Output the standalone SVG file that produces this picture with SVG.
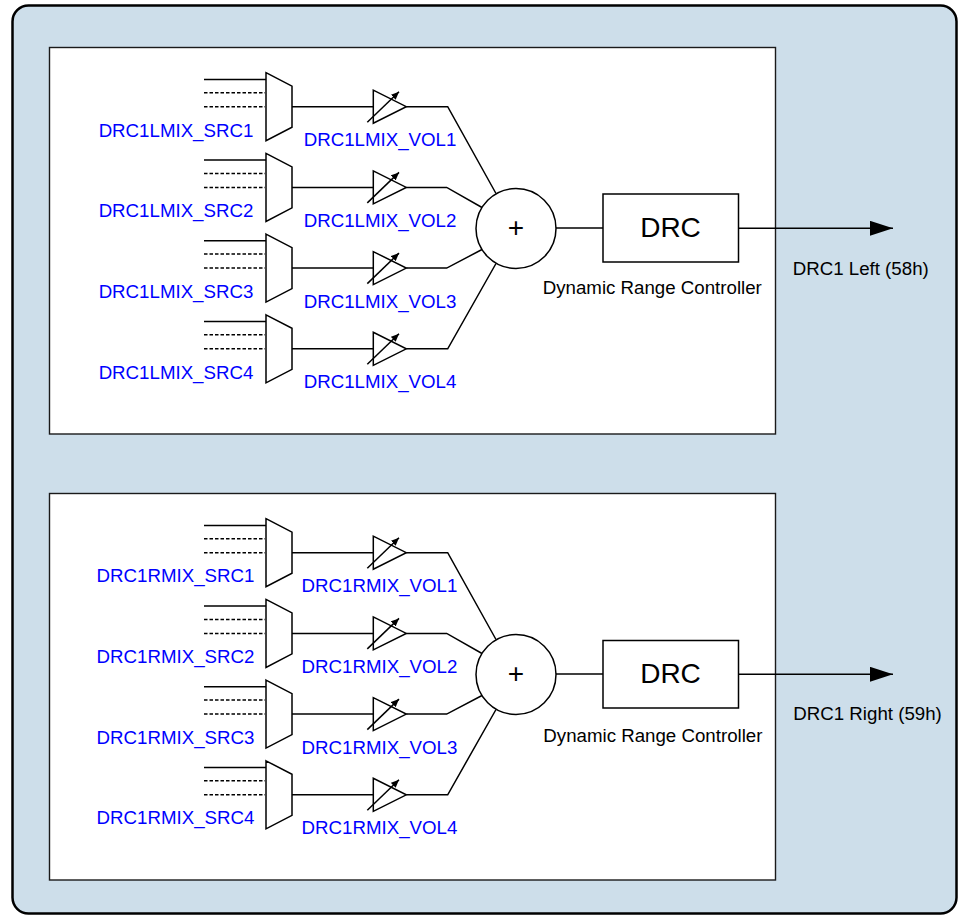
<svg xmlns="http://www.w3.org/2000/svg" xmlns:xlink="http://www.w3.org/1999/xlink" width="960" height="916" viewBox="0 0 960 916">
<style>
  .frame { fill: #cddeea; stroke: #000; stroke-width: 2.5; }
  .panel { fill: #fff; stroke: #1a1a1a; stroke-width: 1.4; }
  .shape { fill: #fff; stroke: #000; stroke-width: 1.5; }
  .wire { fill: none; stroke: #000; stroke-width: 1.5; }
  .dash { fill: none; stroke: #000; stroke-width: 1.5; stroke-dasharray: 3.5 2; }
  .lbl { font-family: "Liberation Sans", Arial, sans-serif; font-size: 18.7px; fill: #000; }
  .blue { fill: #0000ff; }
  .big { font-family: "Liberation Sans", Arial, sans-serif; font-size: 28px; fill: #000; }
</style>
<defs>
  <marker id="tip" markerUnits="userSpaceOnUse" markerWidth="8" markerHeight="7" refX="8" refY="3.5" orient="auto">
    <path d="M0,0 L8,3.5 L0,7 Z" fill="#000"/>
  </marker>
  <marker id="outArrow" markerUnits="userSpaceOnUse" markerWidth="23" markerHeight="15" refX="23" refY="7.5" orient="auto">
    <path d="M0,0 L23,7.5 L0,15 Z" fill="#000"/>
  </marker>
  <path id="muxShape" class="shape" d="M0,-34 L26,-20.5 L26,20.5 L0,34 Z"/>
  <g id="ampShape">
    <path class="shape" d="M0,-16.5 L0,16.5 L33,0 Z"/>
    <line class="wire" x1="-6" y1="15.5" x2="25.7" y2="-15" marker-end="url(#tip)"/>
  </g>
  <g id="inputs">
    <line class="wire" x1="204" y1="-27.3" x2="266" y2="-27.3"/>
    <line class="dash" x1="204" y1="-14" x2="265" y2="-14"/>
    <line class="dash" x1="204" y1="0" x2="265" y2="0"/>
  </g>
</defs>

<g id="frame">
  <rect class="frame" x="12.5" y="5.5" width="944" height="908" rx="16" ry="16"/>
</g>

<g id="panel-left">
  <rect class="panel" x="49.5" y="47.5" width="726" height="386.5"/>
</g>
<g id="panel-right">
  <rect class="panel" x="49.5" y="493.5" width="726" height="386.5"/>
</g>

<g id="connectors">
  <line class="wire" x1="292" y1="106.7" x2="373.3" y2="106.7"/>
  <line class="wire" x1="292" y1="187.4" x2="373.3" y2="187.4"/>
  <line class="wire" x1="292" y1="268.1" x2="373.3" y2="268.1"/>
  <line class="wire" x1="292" y1="348.8" x2="373.3" y2="348.8"/>
  <polyline class="wire" points="406.3,106.7 447.7,106.7 496,193.5"/>
  <polyline class="wire" points="406.3,187.4 446.7,187.4 482,207.5"/>
  <polyline class="wire" points="406.3,268.1 446.7,268.1 482,249.5"/>
  <polyline class="wire" points="406.3,348.8 447.7,348.8 496,263.5"/>
  <line class="wire" x1="556" y1="228" x2="603" y2="228"/>
  <line class="wire" x1="738.5" y1="228.3" x2="893" y2="228.3" marker-end="url(#outArrow)"/>
  <line class="wire" x1="292" y1="552.7" x2="373.3" y2="552.7"/>
  <line class="wire" x1="292" y1="633.4" x2="373.3" y2="633.4"/>
  <line class="wire" x1="292" y1="714.1" x2="373.3" y2="714.1"/>
  <line class="wire" x1="292" y1="794.8" x2="373.3" y2="794.8"/>
  <polyline class="wire" points="406.3,552.7 447.7,552.7 496,639.5"/>
  <polyline class="wire" points="406.3,633.4 446.7,633.4 482,653.5"/>
  <polyline class="wire" points="406.3,714.1 446.7,714.1 482,695.5"/>
  <polyline class="wire" points="406.3,794.8 447.7,794.8 496,709.5"/>
  <line class="wire" x1="556" y1="674" x2="603" y2="674"/>
  <line class="wire" x1="738.5" y1="674.3" x2="893" y2="674.3" marker-end="url(#outArrow)"/>
</g>

<g id="mux-l1"><use xlink:href="#inputs" y="106.7"/><use xlink:href="#muxShape" x="266" y="106.7"/>
  <text class="lbl blue" x="176" y="136.7" text-anchor="middle">DRC1LMIX_SRC1</text></g>
<g id="mux-l2"><use xlink:href="#inputs" y="187.4"/><use xlink:href="#muxShape" x="266" y="187.4"/>
  <text class="lbl blue" x="176" y="217.4" text-anchor="middle">DRC1LMIX_SRC2</text></g>
<g id="mux-l3"><use xlink:href="#inputs" y="268.1"/><use xlink:href="#muxShape" x="266" y="268.1"/>
  <text class="lbl blue" x="176" y="298.1" text-anchor="middle">DRC1LMIX_SRC3</text></g>
<g id="mux-l4"><use xlink:href="#inputs" y="348.8"/><use xlink:href="#muxShape" x="266" y="348.8"/>
  <text class="lbl blue" x="176" y="378.8" text-anchor="middle">DRC1LMIX_SRC4</text></g>

<g id="vol-l1"><use xlink:href="#ampShape" x="373.3" y="106.7"/>
  <text class="lbl blue" x="380" y="146.2" text-anchor="middle">DRC1LMIX_VOL1</text></g>
<g id="vol-l2"><use xlink:href="#ampShape" x="373.3" y="187.4"/>
  <text class="lbl blue" x="380" y="226.9" text-anchor="middle">DRC1LMIX_VOL2</text></g>
<g id="vol-l3"><use xlink:href="#ampShape" x="373.3" y="268.1"/>
  <text class="lbl blue" x="380" y="307.6" text-anchor="middle">DRC1LMIX_VOL3</text></g>
<g id="vol-l4"><use xlink:href="#ampShape" x="373.3" y="348.8"/>
  <text class="lbl blue" x="380" y="388.3" text-anchor="middle">DRC1LMIX_VOL4</text></g>

<g id="sum-l">
  <circle class="shape" cx="516" cy="228.5" r="40"/>
  <text class="big" x="516" y="236.5" text-anchor="middle">+</text>
</g>
<g id="drc-l">
  <rect class="shape" x="603" y="194" width="135.5" height="68"/>
  <text class="big" x="670.5" y="236.5" text-anchor="middle">DRC</text>
  <text class="lbl" x="542.7" y="293.5">Dynamic Range Controller</text>
</g>
<g id="out-l">
  <text class="lbl" x="792.7" y="275">DRC1 Left (58h)</text>
</g>

<g id="mux-r1"><use xlink:href="#inputs" y="552.7"/><use xlink:href="#muxShape" x="266" y="552.7"/>
  <text class="lbl blue" x="175.5" y="582.2" text-anchor="middle">DRC1RMIX_SRC1</text></g>
<g id="mux-r2"><use xlink:href="#inputs" y="633.4"/><use xlink:href="#muxShape" x="266" y="633.4"/>
  <text class="lbl blue" x="175.5" y="662.9" text-anchor="middle">DRC1RMIX_SRC2</text></g>
<g id="mux-r3"><use xlink:href="#inputs" y="714.1"/><use xlink:href="#muxShape" x="266" y="714.1"/>
  <text class="lbl blue" x="175.5" y="743.6" text-anchor="middle">DRC1RMIX_SRC3</text></g>
<g id="mux-r4"><use xlink:href="#inputs" y="794.8"/><use xlink:href="#muxShape" x="266" y="794.8"/>
  <text class="lbl blue" x="175.5" y="824.3" text-anchor="middle">DRC1RMIX_SRC4</text></g>

<g id="vol-r1"><use xlink:href="#ampShape" x="373.3" y="552.7"/>
  <text class="lbl blue" x="379.5" y="592.2" text-anchor="middle">DRC1RMIX_VOL1</text></g>
<g id="vol-r2"><use xlink:href="#ampShape" x="373.3" y="633.4"/>
  <text class="lbl blue" x="379.5" y="672.9" text-anchor="middle">DRC1RMIX_VOL2</text></g>
<g id="vol-r3"><use xlink:href="#ampShape" x="373.3" y="714.1"/>
  <text class="lbl blue" x="379.5" y="753.6" text-anchor="middle">DRC1RMIX_VOL3</text></g>
<g id="vol-r4"><use xlink:href="#ampShape" x="373.3" y="794.8"/>
  <text class="lbl blue" x="379.5" y="834.3" text-anchor="middle">DRC1RMIX_VOL4</text></g>

<g id="sum-r">
  <circle class="shape" cx="516" cy="674.5" r="40"/>
  <text class="big" x="516" y="682.5" text-anchor="middle">+</text>
</g>
<g id="drc-r">
  <rect class="shape" x="603" y="640.5" width="135.5" height="67.5"/>
  <text class="big" x="670.5" y="683" text-anchor="middle">DRC</text>
  <text class="lbl" x="543.3" y="741.5">Dynamic Range Controller</text>
</g>
<g id="out-r">
  <text class="lbl" x="793.3" y="720">DRC1 Right (59h)</text>
</g>
</svg>
